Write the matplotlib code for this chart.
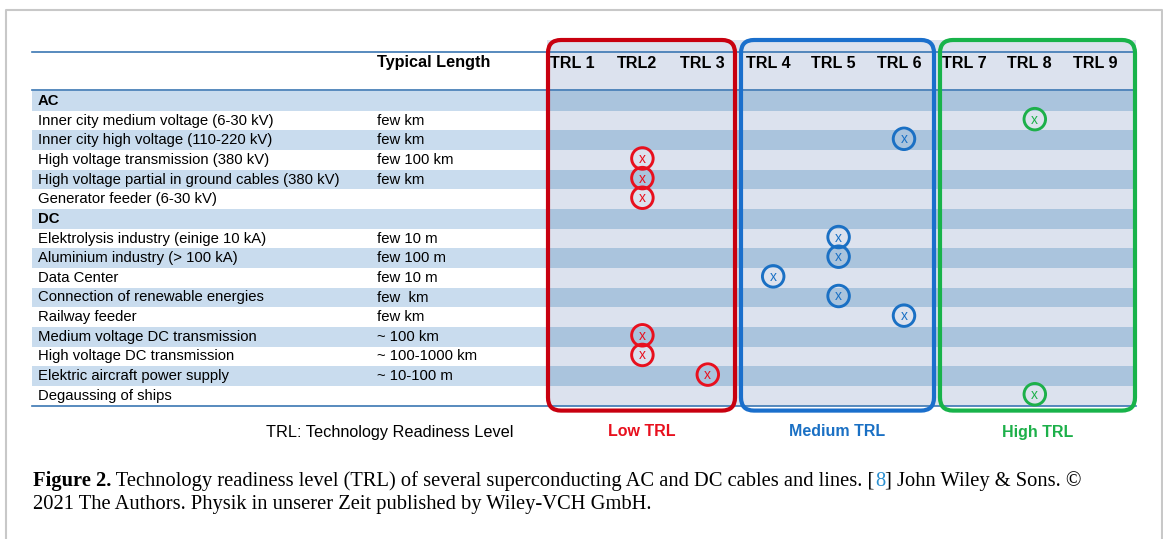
import matplotlib
matplotlib.use("Agg")
import matplotlib.pyplot as plt
from matplotlib.patches import Rectangle, FancyBboxPatch

# ---------------- data ----------------
applications = [
    "AC",
    "Inner city medium voltage (6-30 kV)",
    "Inner city high voltage (110-220 kV)",
    "High voltage transmission (380 kV)",
    "High voltage partial in ground cables (380 kV)",
    "Generator feeder (6-30 kV)",
    "DC",
    "Elektrolysis industry (einige 10 kA)",
    "Aluminium industry (> 100 kA)",
    "Data Center",
    "Connection of renewable energies",
    "Railway feeder",
    "Medium voltage DC transmission",
    "High voltage DC transmission",
    "Elektric aircraft power supply",
    "Degaussing of ships",
]
typical_length = ["", "few km", "few km", "few 100 km", "few km", "", "",
                  "few 10 m", "few 100 m", "few 10 m", "few  km", "few km",
                  "~ 100 km", "~ 100-1000 km", "~ 10-100 m", ""]
trl = [None, 8, 6, 2, 2, 2, None, 5, 5, 4, 5, 6, 2, 2, 3, 8]
section_rows = ["AC", "DC"]
trl_labels = ["TRL 1", "TRL2", "TRL 3", "TRL 4", "TRL 5", "TRL 6", "TRL 7", "TRL 8", "TRL 9"]
groups = ["Low TRL", "Medium TRL", "High TRL"]
group_colors = ["#e8101e", "#1a70c4", "#1db04a"]
box_colors = ["#c8000f", "#1a6fcc", "#18b34a"]
caption_bold = "Figure 2."
caption_1 = " Technology readiness level (TRL) of several superconducting AC and DC cables and lines. ["
caption_ref = "8"
caption_2 = "] John Wiley & Sons. ©"
caption_line2 = "2021 The Authors. Physik in unserer Zeit published by Wiley-VCH GmbH."
footnote = "TRL: Technology Readiness Level"

# ---------------- layout ----------------
W, H = 1163, 539
fig = plt.figure(figsize=(W / 100, H / 100), dpi=100)
ax = fig.add_axes([0, 0, 1, 1])
ax.set_xlim(0, W)
ax.set_ylim(H, 0)
ax.axis("off")

SANS = ["Liberation Sans", "DejaVu Sans"]
SERIF = ["Liberation Serif", "DejaVu Serif"]

# outer frame (left, top, right)
ax.plot([6, 6, 1162, 1162], [H, 10, 10, H], color="#c8c8c8", lw=1.5, solid_capstyle="butt")

row0_y = 101.0
row_h = 19.65
tab_left, tab_right = 32, 1136
trl_left = 547
header_top = 52
header_bot = 90
n = len(applications)
tab_bot = row0_y + (n - 0.5) * row_h

def row_y(i):
    return row0_y + i * row_h

trl_x0, trl_dx = 572, 65.4
def col_x(k):
    return trl_x0 + (k - 1) * trl_dx

# TRL region background
ax.add_patch(Rectangle((trl_left, 40), tab_right - trl_left, tab_bot - 40,
                       facecolor="#dce2ee", edgecolor="none", zorder=0))

# stripes
for i in range(n):
    if i % 2 == 0:
        y = row_y(i) - row_h / 2
        ax.add_patch(Rectangle((tab_left, y), trl_left - tab_left, row_h,
                               facecolor="#c9dcee", edgecolor="none", zorder=1))
        ax.add_patch(Rectangle((trl_left, y), tab_right - trl_left, row_h,
                               facecolor="#aac4dd", edgecolor="none", zorder=1))

# horizontal rules
for yy in (header_top, header_bot, tab_bot):
    ax.plot([tab_left, tab_right], [yy, yy], color="#3b77b3", lw=1.2, zorder=3)

# rounded group boxes
box_edges = [(547, 736), (740, 935), (939, 1136)]
for (x0, x1), c in zip(box_edges, box_colors):
    ax.add_patch(FancyBboxPatch((x0 + 1, 40), x1 - x0 - 2, tab_bot + 5 - 40,
                                boxstyle="round,pad=0,rounding_size=13",
                                facecolor="none", edgecolor=c, lw=3.0, zorder=6))

# header
ax.text(377, 63, "Typical Length", fontsize=11.7, fontweight="bold", family=SANS,
        va="center", ha="left", zorder=5)
for k, lab in enumerate(trl_labels, start=1):
    ax.text(col_x(k), 63, lab, fontsize=11.6, fontweight="bold", family=SANS,
            va="center", ha="center", zorder=5)

# rows
for i, (app, ln) in enumerate(zip(applications, typical_length)):
    bold = app in section_rows
    ax.text(38, row_y(i), app, fontsize=10.7, fontweight="bold" if bold else "normal",
            family=SANS, va="center", ha="left", zorder=5)
    if ln:
        ax.text(377, row_y(i), ln, fontsize=10.7, family=SANS, va="center", ha="left", zorder=5)

# markers
def grp(k):
    return (k - 1) // 3
xs, ys, cs = [], [], []
for i, t in enumerate(trl):
    if t is None:
        continue
    xs.append(col_x(t) + 5)
    ys.append(row_y(i) - 1.5)
    cs.append(group_colors[grp(t)])
ax.scatter(xs, ys, s=240, facecolors="none", edgecolors=cs, linewidths=2.1, zorder=7)
for x, y, c in zip(xs, ys, cs):
    ax.text(x, y + 0.5, "x", color=c, fontsize=10, family=SANS, ha="center",
            va="center", zorder=8)

# footer labels
ax.text(390, 432, footnote, fontsize=11.7, family=SANS, ha="center", va="center")
for (x0, x1), g, c in zip(box_edges, groups, group_colors):
    ax.text((x0 + x1) / 2, 432, g, fontsize=11.5, fontweight="bold", family=SANS,
            color=c, ha="center", va="center")

# caption
CS = 14.8
t1 = ax.text(33, 481, caption_bold, fontsize=CS, fontweight="bold", family=SERIF,
             ha="left", va="center")
fig.canvas.draw()
r = fig.canvas.get_renderer()
bb = t1.get_window_extent(r)
x = bb.x1
for txt, col in ((caption_1, "black"), (caption_ref, "#2a8fd0"), (caption_2, "black")):
    t = ax.text(x, H - 481, txt, fontsize=CS, family=SERIF, ha="left", va="center",
                color=col, transform=None)
    x = t.get_window_extent(r).x1
ax.text(33, 505, caption_line2, fontsize=CS, family=SERIF, ha="left", va="center")

fig.savefig("out.png", dpi=100)
